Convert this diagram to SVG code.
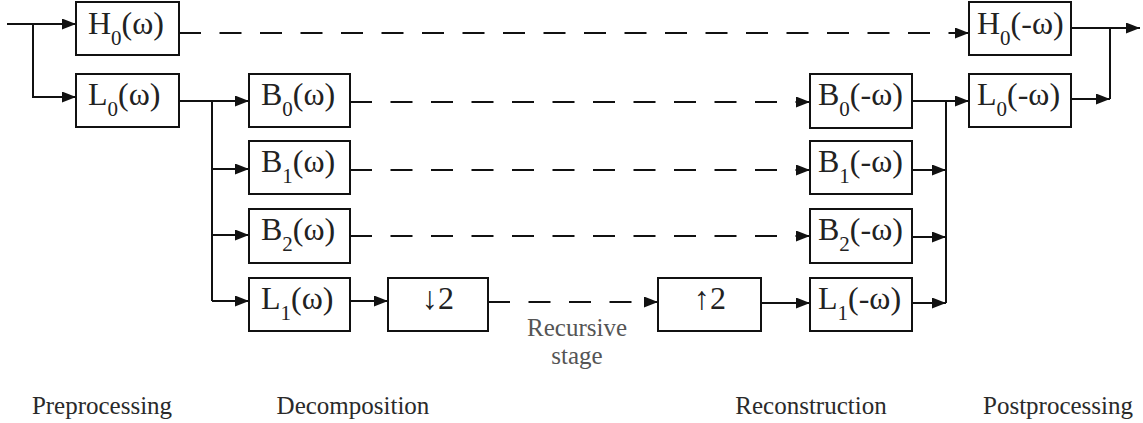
<svg xmlns="http://www.w3.org/2000/svg" width="1143" height="423" viewBox="0 0 1143 423">
  <style>
    .box { fill: #fff; stroke: #111; stroke-width: 2; }
    text { font-family: 'Liberation Serif', 'Times New Roman', Tinos, 'DejaVu Serif', serif; }
    .lbl { font-size: 32px; fill: #222; }
    .sub { font-size: 21px; }
    .wire { fill: none; stroke: #111; stroke-width: 2; }
    .dash { stroke-dasharray: 22 18.5; }
    .cap { font-size: 25px; fill: #2a2a2a; text-anchor: middle; }
    .note { fill: #555; }
  </style>
  <defs>
    <marker id="arrow" markerUnits="userSpaceOnUse" markerWidth="16" markerHeight="12" refX="14" refY="5.5" orient="auto">
      <path d="M0,0 L14,5.5 L0,11 z" fill="#111"/>
    </marker>
  </defs>

  <rect width="1143" height="423" fill="#fff"/>

  <!-- connectors -->
  <g id="connectors" class="wire">
    <!-- input split -->
    <path d="M7,24 H76" marker-end="url(#arrow)"/>
    <path d="M33,24 V97 H76" marker-end="url(#arrow)"/>
    <!-- high-pass bypass -->
    <path class="dash" d="M179,33 H969" marker-end="url(#arrow)"/>
    <!-- low-pass fan-out to band filters -->
    <path d="M179,101 H249" marker-end="url(#arrow)"/>
    <path d="M212,101 V301"/>
    <path d="M212,169 H249" marker-end="url(#arrow)"/>
    <path d="M212,235 H249" marker-end="url(#arrow)"/>
    <path d="M212,301 H249" marker-end="url(#arrow)"/>
    <!-- band channels -->
    <path class="dash" d="M350,102 H810" marker-end="url(#arrow)"/>
    <path class="dash" d="M350,170 H810" marker-end="url(#arrow)"/>
    <path class="dash" d="M350,236 H810" marker-end="url(#arrow)"/>
    <!-- recursive low-pass path -->
    <path d="M350,301 H388" marker-end="url(#arrow)"/>
    <path class="dash" d="M488,302 H658" marker-end="url(#arrow)"/>
    <path d="M761,303 H810" marker-end="url(#arrow)"/>
    <!-- synthesis sum -->
    <path d="M912,101 H969" marker-end="url(#arrow)"/>
    <path d="M946,101 V303"/>
    <path d="M912,170 H946" marker-end="url(#arrow)"/>
    <path d="M912,237 H946" marker-end="url(#arrow)"/>
    <path d="M912,303 H946" marker-end="url(#arrow)"/>
    <!-- output sum -->
    <path d="M1071,28 H1140" marker-end="url(#arrow)"/>
    <path d="M1110,28 V99"/>
    <path d="M1071,99 H1110" marker-end="url(#arrow)"/>
  </g>

  <!-- preprocessing -->
  <g id="H0">
    <rect class="box" x="76" y="2" width="103" height="53"/>
    <text class="lbl" x="88" y="34">H<tspan class="sub" dy="11">0</tspan><tspan dy="-11">(ω)</tspan></text>
  </g>
  <g id="L0">
    <rect class="box" x="76" y="74" width="103" height="53"/>
    <text class="lbl" x="88" y="105">L<tspan class="sub" dy="11">0</tspan><tspan dy="-11">(ω)</tspan></text>
  </g>

  <!-- decomposition -->
  <g id="B0">
    <rect class="box" x="249" y="74" width="101" height="53"/>
    <text class="lbl" x="261" y="105">B<tspan class="sub" dy="11">0</tspan><tspan dy="-11">(ω)</tspan></text>
  </g>
  <g id="B1">
    <rect class="box" x="249" y="141" width="101" height="53"/>
    <text class="lbl" x="261" y="172">B<tspan class="sub" dy="11">1</tspan><tspan dy="-11">(ω)</tspan></text>
  </g>
  <g id="B2">
    <rect class="box" x="249" y="209" width="101" height="54"/>
    <text class="lbl" x="261" y="240">B<tspan class="sub" dy="11">2</tspan><tspan dy="-11">(ω)</tspan></text>
  </g>
  <g id="L1">
    <rect class="box" x="249" y="278" width="101" height="53"/>
    <text class="lbl" x="261" y="309">L<tspan class="sub" dy="11">1</tspan><tspan dy="-11">(ω)</tspan></text>
  </g>
  <g id="down2">
    <rect class="box" x="388" y="278" width="100" height="53"/>
    <text class="lbl" x="438" y="309" text-anchor="middle">↓2</text>
  </g>

  <!-- recursion -->
  <g id="recursive-stage">
    <text class="cap note" x="577" y="336">Recursive</text>
    <text class="cap note" x="577" y="364">stage</text>
  </g>

  <!-- reconstruction -->
  <g id="up2">
    <rect class="box" x="658" y="278" width="103" height="53"/>
    <text class="lbl" x="710" y="309" text-anchor="middle">↑2</text>
  </g>
  <g id="B0r">
    <rect class="box" x="810" y="74" width="102" height="54"/>
    <text class="lbl" x="818" y="105">B<tspan class="sub" dy="11">0</tspan><tspan dy="-11">(-ω)</tspan></text>
  </g>
  <g id="B1r">
    <rect class="box" x="810" y="141" width="102" height="53"/>
    <text class="lbl" x="818" y="172">B<tspan class="sub" dy="11">1</tspan><tspan dy="-11">(-ω)</tspan></text>
  </g>
  <g id="B2r">
    <rect class="box" x="810" y="209" width="102" height="54"/>
    <text class="lbl" x="818" y="240">B<tspan class="sub" dy="11">2</tspan><tspan dy="-11">(-ω)</tspan></text>
  </g>
  <g id="L1r">
    <rect class="box" x="810" y="278" width="102" height="53"/>
    <text class="lbl" x="818" y="309">L<tspan class="sub" dy="11">1</tspan><tspan dy="-11">(-ω)</tspan></text>
  </g>

  <!-- postprocessing -->
  <g id="H0r">
    <rect class="box" x="969" y="2" width="102" height="53"/>
    <text class="lbl" x="977" y="34">H<tspan class="sub" dy="11">0</tspan><tspan dy="-11">(-ω)</tspan></text>
  </g>
  <g id="L0r">
    <rect class="box" x="969" y="74" width="102" height="53"/>
    <text class="lbl" x="977" y="105">L<tspan class="sub" dy="11">0</tspan><tspan dy="-11">(-ω)</tspan></text>
  </g>

  <!-- stage captions -->
  <g id="captions">
    <text class="cap" x="102" y="414">Preprocessing</text>
    <text class="cap" x="353" y="414">Decomposition</text>
    <text class="cap" x="811" y="414">Reconstruction</text>
    <text class="cap" x="1058" y="414">Postprocessing</text>
  </g>
</svg>
